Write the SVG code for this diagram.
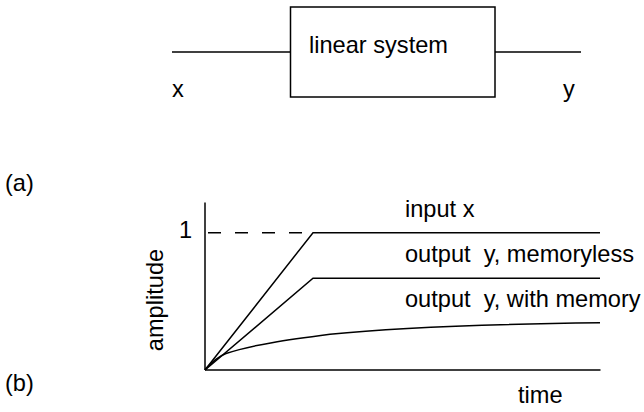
<svg xmlns="http://www.w3.org/2000/svg" width="644" height="412" viewBox="0 0 644 412">
<style>
text{font-family:"Liberation Sans",Arial,sans-serif;font-size:23.6px;fill:#000;white-space:pre}
.ln{stroke:#000;stroke-width:1.5;fill:none}
</style>
<rect width="644" height="412" fill="#fff"/>
<g id="system">
<rect class="ln" x="290.5" y="7" width="204.5" height="90"/>
<text x="309" y="53">linear system</text>
</g>
<g id="labels">
<text x="172" y="97">x</text>
<text x="563" y="97">y</text>
<text x="5" y="191">(a)</text>
<text x="5" y="391">(b)</text>
<text x="179" y="238">1</text>
<text transform="translate(163,300) rotate(-90)" text-anchor="middle">amplitude</text>
<text x="518" y="403">time</text>
<text x="405" y="217">input x</text>
<text x="405" y="262" xml:space="preserve">output  y, memoryless</text>
<text x="405" y="307" xml:space="preserve">output  y, with memory</text>
</g>
<g id="connectors">
<line class="ln" x1="172" y1="52" x2="290.5" y2="52"/>
<line class="ln" x1="495" y1="52" x2="581" y2="52"/>
</g>
<g id="chart">
<line class="ln" x1="205" y1="202.5" x2="205" y2="370"/>
<line class="ln" x1="205" y1="370" x2="600.5" y2="370"/>
<line class="ln" x1="208" y1="232.7" x2="313" y2="232.7" stroke-dasharray="13 14"/>
<polyline class="ln" points="205,370 313,232.7 600,232.7"/>
<polyline class="ln" points="205,370 313,278.3 600,278.3"/>
<path class="ln" d="M205,369.5 C212,362 218,356.5 226,353.5 C250,345 290,339.5 330,334.3 C400,327 500,324 600,322.7"/>
</g>
</svg>
